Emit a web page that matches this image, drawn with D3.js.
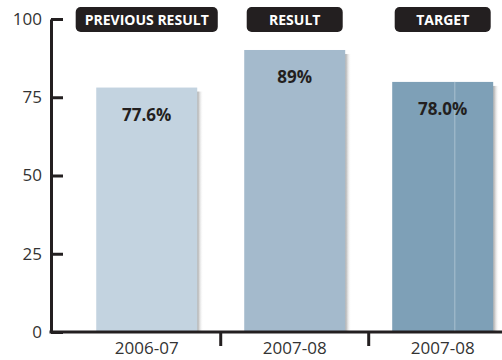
<!DOCTYPE html>
<html><head><meta charset="utf-8">
<script src="https://cdn.jsdelivr.net/npm/d3@7"></script>
<style>body{margin:0;background:#fff}svg{display:block}</style>
</head><body>
<svg id="c" width="502" height="360"></svg>
<script>
const categories = ["2006-07", "2007-08", "2007-08 "];
const badges = ["PREVIOUS RESULT", "RESULT", "TARGET"];
const barValues = [78.1, 90.1, 79.9];
const valueLabels = ["77.6%", "89%", "78.0%"];
const yTicks = [0, 25, 50, 75, 100];
const colors = ["#c3d3e0", "#a4bacc", "#7ea0b7"];

const svg = d3.select("#c");
const ink = "#231f20";
const font = "'Open Sans', 'Noto Sans', sans-serif";

const y = d3.scaleLinear().domain([0, 100]).range([332, 19]);
const x = d3.scaleBand().domain(categories).range([50, 502])
  .paddingInner(0.3176).paddingOuter(0.186).align(0.84);

const defs = svg.append("defs");
const g = defs.append("linearGradient").attr("id", "sh");
g.append("stop").attr("offset", "0%").attr("stop-color", "#8f8f8f").attr("stop-opacity", 0.85);
g.append("stop").attr("offset", "100%").attr("stop-color", "#ffffff").attr("stop-opacity", 0);

const data = categories.map((c, i) => ({c, v: barValues[i], l: valueLabels[i], b: badges[i], col: colors[i]}));

svg.selectAll("rect.sh").data(data).join("rect").attr("class", "sh")
  .attr("x", d => x(d.c) + x.bandwidth())
  .attr("y", d => y(d.v) + 4)
  .attr("width", 6)
  .attr("height", d => y(0) - y(d.v) - 4)
  .attr("fill", "url(#sh)");

svg.selectAll("rect.bar").data(data).join("rect").attr("class", "bar")
  .attr("x", d => x(d.c))
  .attr("y", d => y(d.v))
  .attr("width", x.bandwidth())
  .attr("height", d => y(0) - y(d.v))
  .attr("fill", d => d.col);

svg.append("line")
  .attr("x1", x(categories[2]) + x.bandwidth() * 0.62).attr("x2", x(categories[2]) + x.bandwidth() * 0.62)
  .attr("y1", y(barValues[2])).attr("y2", y(0))
  .attr("stroke", "#a9c0d0").attr("stroke-width", 1);

svg.selectAll("text.val").data(data).join("text").attr("class", "val")
  .attr("x", d => x(d.c) + x.bandwidth() / 2)
  .attr("y", d => y(d.v) + 33)
  .attr("text-anchor", "middle")
  .attr("font-family", font).attr("font-weight", "bold").attr("font-size", 17)
  .attr("fill", ink)
  .text(d => d.l);

const ya = svg.append("g").attr("transform", "translate(51,0)")
  .call(d3.axisLeft(y).tickValues(yTicks).tickSizeInner(-12).tickSizeOuter(0).tickPadding(8));
ya.select(".domain").attr("stroke", ink).attr("stroke-width", 3);
ya.selectAll(".tick line").attr("stroke", ink).attr("stroke-width", 3);
ya.selectAll(".tick text").attr("font-family", font).attr("font-size", 17).attr("fill", "#333").attr("dx", "-1");

const xa = svg.append("g").attr("transform", `translate(0,${y(0)})`)
  .call(d3.axisBottom(x).tickSize(0).tickPadding(10));
xa.select(".domain").attr("stroke", ink).attr("stroke-width", 3)
  .attr("d", "M49.5,0H502");
xa.selectAll(".tick text").attr("font-family", font).attr("font-size", 17).attr("fill", "#333");

const seps = categories.slice(1).map(c => x(c) - x.step() * x.paddingInner() / 2);
svg.selectAll("line.sep").data(seps).join("line").attr("class", "sep")
  .attr("x1", d => d).attr("x2", d => d)
  .attr("y1", y(0)).attr("y2", y(0) + 14)
  .attr("stroke", ink).attr("stroke-width", 3);

const bg = svg.selectAll("g.badge").data(data).join("g").attr("class", "badge")
  .attr("transform", d => `translate(${x(d.c) + x.bandwidth() / 2},0)`);
bg.append("text")
  .attr("y", 25).attr("text-anchor", "middle")
  .attr("font-family", font).attr("font-weight", "bold").attr("font-size", 14)
  .attr("fill", "#fff").text(d => d.b);
bg.each(function () {
  const gEl = d3.select(this);
  const w = Math.max(96, gEl.select("text").node().getComputedTextLength() + 18);
  gEl.insert("rect", "text").attr("x", -w / 2).attr("y", 7).attr("width", w).attr("height", 25)
    .attr("rx", 5).attr("fill", ink);
});
</script>
</body></html>
